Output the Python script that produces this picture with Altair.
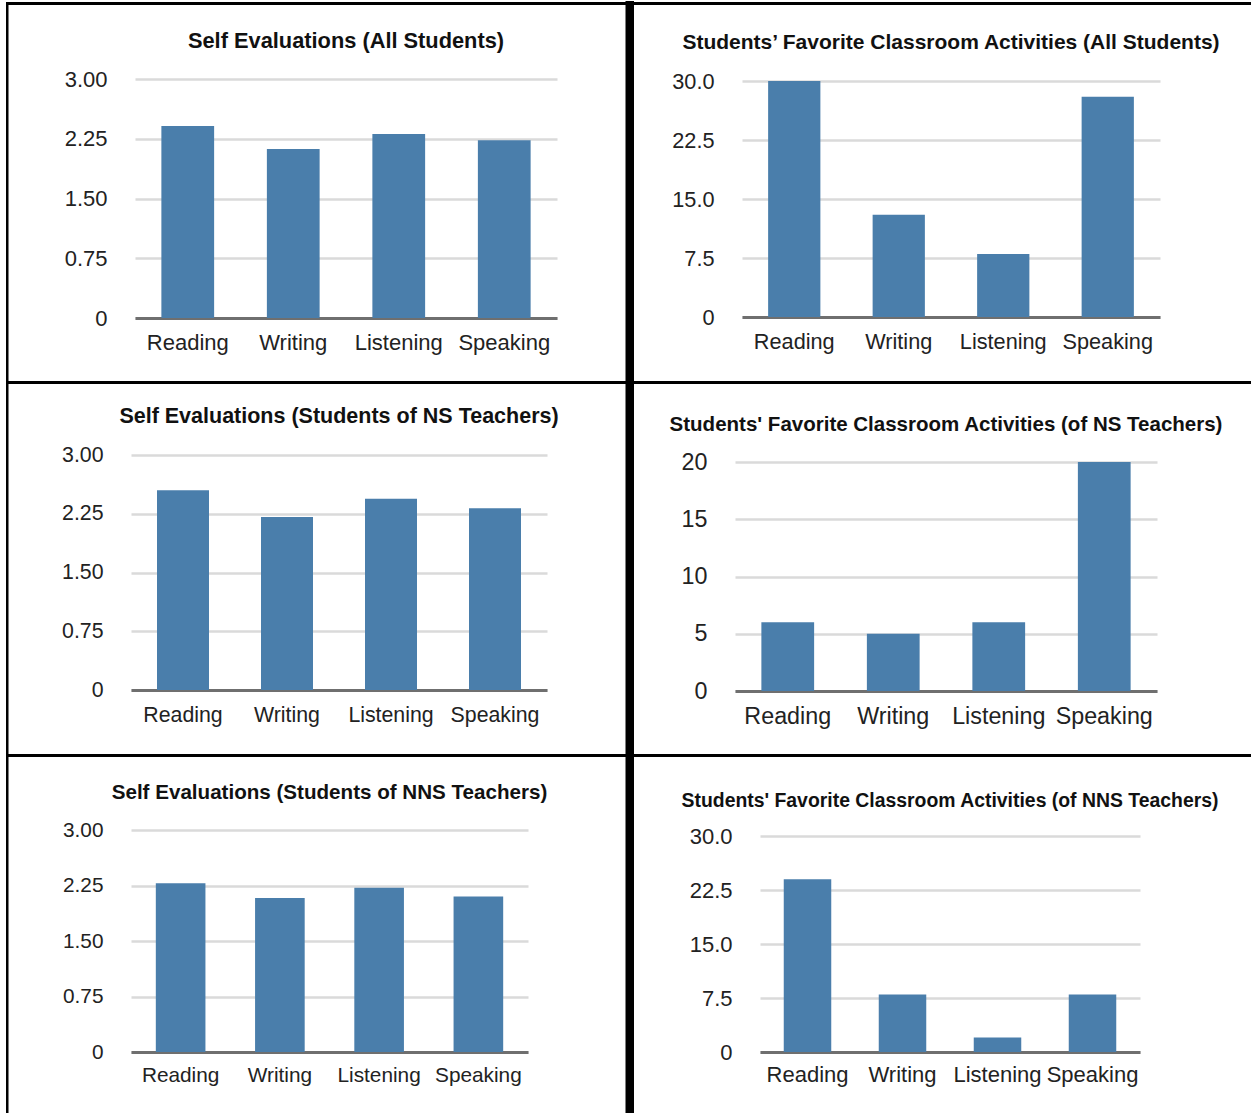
import altair as alt
import pandas as pd

CATEGORIES = ["Reading", "Writing", "Listening", "Speaking"]

SELF_ALL = [2.41, 2.12, 2.31, 2.23]
FAV_ALL = [30, 13, 8, 28]
SELF_NS = [2.55, 2.21, 2.44, 2.32]
FAV_NS = [6, 5, 6, 20]
SELF_NNS = [2.28, 2.08, 2.22, 2.10]
FAV_NNS = [24, 8, 2, 8]

TITLES = [
    "Self Evaluations (All Students)",
    "Students\u2019 Favorite Classroom Activities (All Students)",
    "Self Evaluations (Students of NS Teachers)",
    "Students' Favorite Classroom Activities (of NS Teachers)",
    "Self Evaluations (Students of NNS Teachers)",
    "Students' Favorite Classroom Activities (of NNS Teachers)",
]

SELF_TICKS = [0, 0.75, 1.5, 2.25, 3.0]
FAV30_TICKS = [0, 7.5, 15, 22.5, 30]
FAV20_TICKS = [0, 5, 10, 15, 20]

BAR = "#4a7eab"
FONT = "Liberation Sans"


def one_row():
    return alt.Data(values=[{"k": 1}])


def rect(x, x2, y, y2, color="#000000", opacity=1.0):
    return alt.Chart(one_row()).mark_rect(
        color=color, opacity=opacity
    ).encode(
        x=alt.value(x), x2=alt.value(x2), y=alt.value(y), y2=alt.value(y2)
    )


def dummy():
    return rect(0, 1, 0, 1, "#ffffff", 0).properties(width=1, height=1)


def panel(vals, ymax, ticks, fmt, title, px, py, w, h, box, frame,
          fs_lab, fs_title, title_off, lab_pad):
    # box: layout extent (page px); frame: black frame pieces (page px)
    bx0, bx1, by0, by1 = box
    layers = [rect(bx0 - px, bx1 - px, by0 - py, by1 - py, "#ffffff", 0)]
    for (x0, x1, y0, y1) in frame:
        layers.append(rect(x0 - px, x1 - px, y0 - py, y1 - py))

    layers.append(
        alt.Chart(one_row()).mark_text(
            font=FONT, fontSize=fs_title, fontWeight="bold", color="#111111",
            align="center", baseline="alphabetic",
        ).encode(x=alt.value(w / 2), y=alt.value(-title_off),
                 text=alt.value(title))
    )

    df = pd.DataFrame({"skill": CATEGORIES, "value": vals})
    label_expr = "datum.value == 0 ? '0' : format(datum.value, '%s')" % fmt
    bars = alt.Chart(df).mark_bar(color=BAR).encode(
        x=alt.X(
            "skill:N", sort=CATEGORIES,
            scale=alt.Scale(paddingInner=0.5, paddingOuter=0.25),
            axis=alt.Axis(title=None, labelAngle=0, ticks=False,
                          domainColor="#6f6f6f", domainWidth=3,
                          labelFont=FONT, labelFontSize=fs_lab,
                          labelColor="#222222", labelPadding=lab_pad,
                          labelOverlap=False, labelLimit=300, grid=False),
        ),
        y=alt.Y(
            "value:Q",
            scale=alt.Scale(domain=[0, ymax], nice=False, zero=True),
            axis=alt.Axis(title=None, values=ticks, labelExpr=label_expr,
                          domain=False, ticks=False, grid=True,
                          gridColor="#dadada", gridWidth=2.5,
                          labelFont=FONT, labelFontSize=fs_lab,
                          labelColor="#222222", labelPadding=28),
        ),
    )
    layers.append(bars)
    return alt.layer(*layers).properties(width=w, height=h)


p1 = panel(SELF_ALL, 3, SELF_TICKS, ".2f", TITLES[0], 135, 79, 422, 239,
           (1, 638, 1, 384),
           [(6, 638, 2, 5), (6, 638, 381, 384), (6, 8.5, 2, 384),
            (625.5, 634, 1, 384)],
           22, 21.8, 31, 14)
p2 = panel(FAV_ALL, 30, FAV30_TICKS, ".1f", TITLES[1], 742, 81, 418, 236,
           (638, 1251, 1, 384),
           [(638, 1251, 2, 5), (638, 1251, 381, 384)],
           21.7, 21, 32, 14)
p3 = panel(SELF_NS, 3, SELF_TICKS, ".2f", TITLES[2], 131, 455, 416, 235,
           (1, 634, 384, 757),
           [(6, 634, 754, 757), (6, 8.5, 384, 757), (625.5, 634, 384, 757)],
           21.3, 21.5, 32, 14)
p4 = panel(FAV_NS, 20, FAV20_TICKS, ".0f", TITLES[3], 735, 462, 422, 229,
           (634, 1251, 386, 757),
           [(634, 1251, 754, 757)],
           23.3, 20.5, 31, 14)
p5 = panel(SELF_NNS, 3, SELF_TICKS, ".2f", TITLES[4], 131, 830, 397, 222,
           (1, 634, 757, 1113),
           [(6, 8.5, 757, 1113), (625.5, 634, 757, 1113)],
           20.8, 20.6, 31, 13)
p6 = panel(FAV_NNS, 30, FAV30_TICKS, ".1f", TITLES[5], 760, 836, 380, 216,
           (634, 1251, 764, 1113),
           [],
           22, 19.4, 29, 12)

chart = alt.concat(
    dummy(), dummy(), dummy(),
    dummy(), p1, p2,
    dummy(), p3, p4,
    dummy(), p5, p6,
    columns=3, spacing=0,
).properties(
    padding=0, background="white", align="none", bounds="full"
).configure_view(stroke=None)

chart.save("out.html", embed_options={"renderer": "svg", "actions": False})
